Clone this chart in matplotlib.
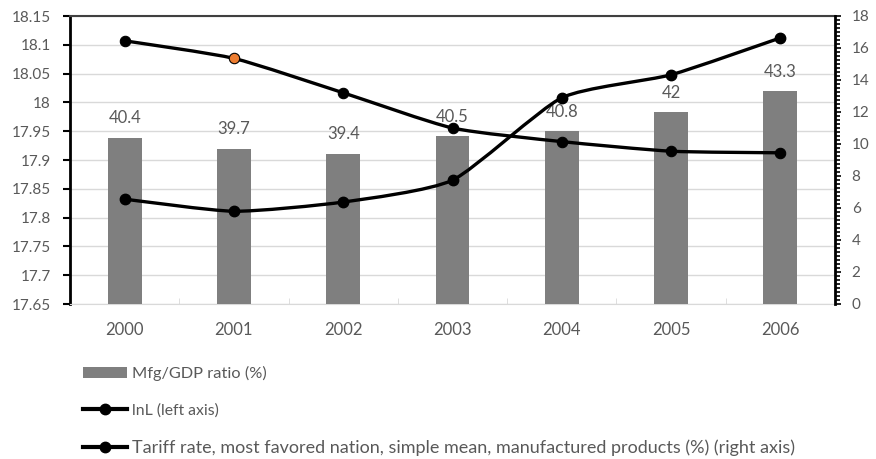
"""Mfg/GDP ratio, lnL and MFN tariff rate, 2000-2006"""

import matplotlib
matplotlib.use("Agg")
import matplotlib.pyplot as plt
from matplotlib.lines import Line2D
from matplotlib.patches import Patch, PathPatch
from matplotlib.path import Path
from matplotlib.ticker import MultipleLocator

years = ["2000", "2001", "2002", "2003", "2004", "2005", "2006"]
mfg_gdp = [40.4, 39.7, 39.4, 40.5, 40.8, 42.0, 43.3]
ln_l = [17.832, 17.811, 17.827, 17.865, 18.008, 18.048, 18.112]
tariff = [16.45, 15.35, 13.2, 11.0, 10.15, 9.55, 9.45]

GRAY_TEXT = "#595959"
BAR_COLOR = "#7f7f7f"
GRID = "#d9d9d9"

plt.rcParams["font.family"] = ["Lato", "DejaVu Sans"]
plt.rcParams["font.size"] = 11


def smooth_path(xs, ys, k=10):
    # lightly smoothed line through the points, as cubic Bezier segments
    pts = list(zip(xs, ys))
    n = len(pts)
    verts = [pts[0]]
    codes = [Path.MOVETO]
    for i in range(n - 1):
        p0 = pts[i - 1] if i > 0 else pts[i]
        p1 = pts[i]
        p2 = pts[i + 1]
        p3 = pts[i + 2] if i + 2 < n else pts[i + 1]
        c1 = (p1[0] + (p2[0] - p0[0]) / k, p1[1] + (p2[1] - p0[1]) / k)
        c2 = (p2[0] - (p3[0] - p1[0]) / k, p2[1] - (p3[1] - p1[1]) / k)
        verts += [c1, c2, p2]
        codes += [Path.CURVE4] * 3
    return Path(verts, codes)


x = list(range(len(years)))

fig = plt.figure(figsize=(8.76, 4.59), dpi=100)
ax = fig.add_axes([70 / 876, 1 - 304 / 459, 765 / 876, 288 / 459])

# left axis: lnL scale, grid and category axis
ax.set_xlim(-0.5, len(years) - 0.5)
ax.set_ylim(17.65, 18.15)
ax.set_yticks([17.65 + 0.05 * k for k in range(11)])
ax.set_yticklabels(["17.65", "17.7", "17.75", "17.8", "17.85", "17.9",
                    "17.95", "18", "18.05", "18.1", "18.15"])
ax.grid(axis="y", color=GRID, linewidth=1)
ax.set_axisbelow(True)
ax.set_xticks(x, years)
ax.set_xticks([i + 0.5 for i in x[:-1]], minor=True)
ax.tick_params(axis="x", which="major", length=0, pad=13, colors=GRAY_TEXT,
               labelsize=12)
ax.tick_params(axis="x", which="minor", direction="in", length=4, color=GRID)
ax.tick_params(axis="y", length=5, width=1.5, color="black", pad=9,
               labelcolor=GRAY_TEXT, labelsize=11)
ax.spines["left"].set_linewidth(2)
ax.spines["left"].set_color("black")
ax.spines["bottom"].set_color(GRID)
ax.spines["top"].set_color("#404040")
ax.spines["top"].set_linewidth(1.5)
ax.spines["right"].set_visible(False)

# bars on their own hidden scale
axb = ax.twinx()
axb.set_ylim(30, 48)
axb.set_axis_off()
axb.bar(x, mfg_gdp, width=0.31, color=BAR_COLOR)
for xi, v in zip(x, mfg_gdp):
    axb.annotate(f"{v:g}", (xi, v), xytext=(0, 14), textcoords="offset points",
                 ha="center", va="center", color=GRAY_TEXT, fontsize=12)

# lnL line on the left scale
axl = ax.twinx()
axl.set_ylim(ax.get_ylim())
axl.set_axis_off()
axl.add_patch(PathPatch(smooth_path(x, ln_l), fill=False, edgecolor="black",
                        linewidth=2.4, capstyle="round"))
axl.plot(x, ln_l, ls="none", marker="o", markersize=7.5, color="black")

# tariff line on the right scale
axr = ax.twinx()
axr.set_ylim(0, 18)
axr.set_yticks(range(0, 19, 2))
axr.yaxis.set_minor_locator(MultipleLocator(0.25))
axr.tick_params(axis="y", which="major", length=4, width=1.2, color="black",
                pad=8, labelcolor=GRAY_TEXT, labelsize=11)
axr.tick_params(axis="y", which="minor", length=3.5, width=1.2, color="black")
for side in ["left", "top", "bottom"]:
    axr.spines[side].set_visible(False)
axr.spines["right"].set_linewidth(2)
axr.spines["right"].set_color("black")
axr.add_patch(PathPatch(smooth_path(x, tariff), fill=False, edgecolor="black",
                        linewidth=2.4, capstyle="round"))
marker_faces = ["black"] * len(x)
marker_faces[1] = "#ed7d31"
for xi, v, fc in zip(x, tariff, marker_faces):
    axr.plot(xi, v, ls="none", marker="o", markersize=7.5,
             markerfacecolor=fc, markeredgecolor="black", markeredgewidth=0.8)

handles = [
    Patch(facecolor=BAR_COLOR, edgecolor="none"),
    Line2D([], [], color="black", linewidth=3, marker="o", markersize=7.5),
    Line2D([], [], color="black", linewidth=3, marker="o", markersize=7.5),
]
labels = [
    "Mfg/GDP ratio (%)",
    "lnL (left axis)",
    "Tariff rate, most favored nation, simple mean, manufactured products (%) (right axis)",
]
leg = fig.legend(handles, labels, loc="upper left",
                 bbox_to_anchor=(83 / 876, 1 - 366 / 459),
                 frameon=False, borderpad=0, borderaxespad=0, handlelength=2.75,
                 handletextpad=0.3, labelspacing=1.37, fontsize=11.5,
                 labelcolor=GRAY_TEXT)
for txt, size in zip(leg.get_texts(), [11.8, 11.3, 13.0]):
    txt.set_fontsize(size)

fig.savefig("out.png", dpi=100)
